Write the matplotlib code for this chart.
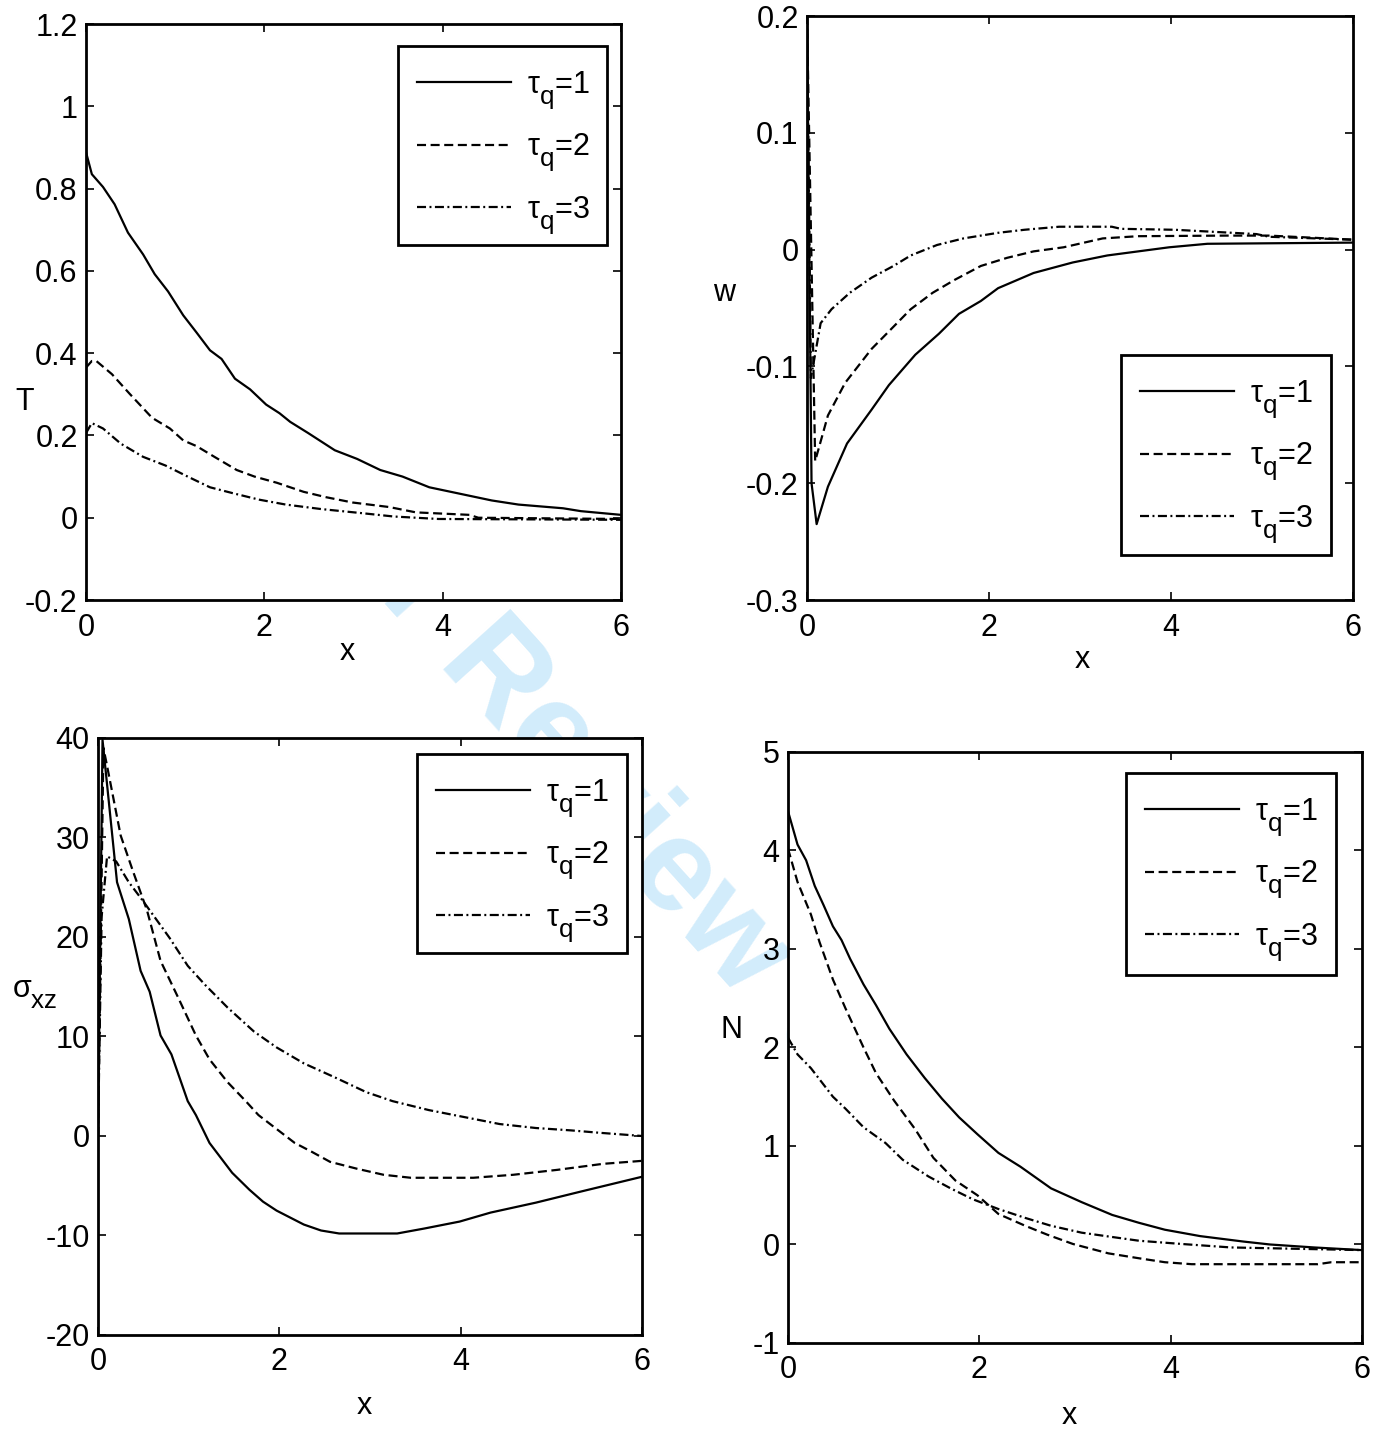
import numpy as np
import matplotlib
matplotlib.use('Agg')
import matplotlib.pyplot as plt
from matplotlib.patches import Rectangle

# 字体设置 (MATLAB 风格的 Helvetica/Arial)
plt.rcParams['font.family'] = 'Liberation Sans'
plt.rcParams['font.size'] = 22
plt.rcParams['mathtext.fontset'] = 'custom'
plt.rcParams['mathtext.rm'] = 'Liberation Sans'
plt.rcParams['mathtext.it'] = 'Liberation Sans'
plt.rcParams['mathtext.bf'] = 'Liberation Sans:bold'
plt.rcParams['axes.unicode_minus'] = False
plt.rcParams['lines.scale_dashes'] = False

# MATLAB 的下标几乎不缩小, 并且下沉较多
try:
    import matplotlib._mathtext as _mt
    _mt.SHRINK_FACTOR = 0.85
    _mt.FontConstantsBase.sub1 = 0.65
    _mt.FontConstantsBase.sub2 = 0.75
except Exception:
    pass

labels = [r'$\tau_q$=1', r'$\tau_q$=2', r'$\tau_q$=3']

# ---- T ----
T1_x = [0, 0.065, 0.19, 0.32, 0.47, 0.64, 0.77, 0.92, 1.09, 1.24, 1.39, 1.52, 1.67, 1.84, 2.02, 2.17,
        2.29, 2.49, 2.64, 2.79, 3.04, 3.3, 3.55, 3.85, 4.2, 4.55, 4.85, 5.35, 5.55, 6.0]
T1_y = [0.888, 0.835, 0.804, 0.762, 0.693, 0.64, 0.592, 0.55, 0.492, 0.45, 0.407, 0.386, 0.338, 0.312,
        0.275, 0.254, 0.233, 0.206, 0.185, 0.164, 0.143, 0.116, 0.1, 0.074, 0.058, 0.042, 0.032, 0.023,
        0.016, 0.007]
T2_x = [0, 0.065, 0.115, 0.29, 0.49, 0.74, 0.94, 1.09, 1.24, 1.44, 1.69, 1.89, 2.14, 2.44, 2.69, 2.99,
        3.4, 3.7, 4.3, 4.4, 6.0]
T2_y = [0.365, 0.381, 0.381, 0.349, 0.301, 0.243, 0.217, 0.188, 0.174, 0.148, 0.116, 0.1, 0.085, 0.063,
        0.05, 0.037, 0.026, 0.013, 0.007, 0.0, -0.003]
T3_x = [0, 0.065, 0.19, 0.39, 0.64, 0.89, 1.14, 1.39, 1.64, 1.94, 2.24, 2.64, 3.1, 3.45, 3.95, 6.0]
T3_y = [0.206, 0.23, 0.217, 0.18, 0.148, 0.127, 0.1, 0.074, 0.06, 0.044, 0.032, 0.021, 0.011, 0.003,
        -0.003, -0.005]

# ---- w ----
w1_x = [0, 0.05, 0.106, 0.23, 0.44, 0.71, 0.9, 1.19, 1.45, 1.67, 1.91, 2.1, 2.49, 2.92, 3.3, 3.64,
        3.98, 4.4, 6.0]
w1_y = [0.2, -0.2, -0.235, -0.203, -0.166, -0.137, -0.116, -0.09, -0.072, -0.055, -0.044, -0.033,
        -0.02, -0.011, -0.005, -0.0015, 0.002, 0.005, 0.006]
w2_x = [0, 0.09, 0.23, 0.42, 0.56, 0.71, 0.9, 1.14, 1.38, 1.62, 1.91, 2.2, 2.49, 2.82, 3.25, 3.64,
        4.6, 5.08, 6.0]
w2_y = [0.2, -0.181, -0.142, -0.114, -0.1, -0.085, -0.07, -0.051, -0.037, -0.026, -0.014, -0.007,
        -0.0015, 0.002, 0.0096, 0.0115, 0.012, 0.012, 0.0085]
w3_x = [0, 0.043, 0.15, 0.27, 0.47, 0.71, 0.95, 1.14, 1.43, 1.72, 2.1, 2.39, 2.77, 3.35, 3.45, 4.04,
        4.94, 5.08, 6.0]
w3_y = [0.2, -0.11, -0.063, -0.051, -0.037, -0.024, -0.014, -0.005, 0.004, 0.0096, 0.0144, 0.017,
        0.0196, 0.0196, 0.0178, 0.017, 0.0133, 0.011, 0.0085]

# ---- sigma_xz ----
s1_x = [0, 0.05, 0.21, 0.34, 0.47, 0.57, 0.69, 0.81, 0.99, 1.08, 1.23, 1.33, 1.48, 1.67, 1.82, 1.97,
        2.27, 2.46, 2.66, 3.3, 3.6, 3.99, 4.33, 4.83, 5.32, 6.0]
s1_y = [0, 39.8, 25.5, 21.8, 16.6, 14.5, 10.1, 8.2, 3.5, 2.1, -0.7, -1.9, -3.7, -5.4, -6.6, -7.5,
        -8.9, -9.5, -9.8, -9.8, -9.3, -8.6, -7.7, -6.7, -5.6, -4.1]
s2_x = [0, 0.06, 0.1, 0.25, 0.39, 0.54, 0.69, 0.89, 1.08, 1.23, 1.43, 1.63, 1.77, 1.97, 2.17, 2.36,
        2.56, 2.86, 3.15, 3.45, 4.14, 4.58, 5.07, 5.57, 6.0]
s2_y = [0, 39.0, 37.2, 30.2, 26.5, 22.7, 17.6, 13.8, 10.1, 7.7, 5.4, 3.5, 2.1, 0.7, -0.7, -1.6,
        -2.6, -3.3, -3.9, -4.2, -4.2, -3.9, -3.4, -2.8, -2.5]
s3_x = [0, 0.04, 0.1, 0.2, 0.34, 0.49, 0.64, 0.79, 0.99, 1.18, 1.43, 1.72, 1.97, 2.27, 2.61, 2.96,
        3.25, 3.65, 4.04, 4.43, 4.83, 5.22, 5.52, 6.0]
s3_y = [0, 22.0, 28.1, 27.6, 25.5, 23.7, 21.8, 19.9, 17.1, 15.2, 12.9, 10.5, 8.9, 7.3, 5.9, 4.4,
        3.5, 2.6, 1.9, 1.2, 0.8, 0.56, 0.33, 0.0]

# ---- N ----
N1_x = [0, 0.1, 0.19, 0.28, 0.37, 0.47, 0.56, 0.65, 0.79, 0.92, 1.06, 1.24, 1.43, 1.61, 1.79, 1.98,
        2.2, 2.43, 2.75, 3.07, 3.39, 3.67, 3.94, 4.31, 4.76, 5.04, 5.5, 6.0]
N1_y = [4.4, 4.06, 3.9, 3.64, 3.45, 3.23, 3.09, 2.9, 2.64, 2.43, 2.19, 1.93, 1.69, 1.48, 1.29, 1.12,
        0.93, 0.79, 0.57, 0.43, 0.3, 0.22, 0.15, 0.085, 0.03, 0.0, -0.03, -0.057]
N2_x = [0, 0.1, 0.24, 0.33, 0.47, 0.6, 0.79, 0.92, 1.11, 1.33, 1.52, 1.75, 1.98, 2.2, 2.48, 2.71,
        2.98, 3.35, 3.67, 3.94, 4.22, 5.54, 5.68, 6.0]
N2_y = [4.02, 3.68, 3.35, 3.07, 2.69, 2.4, 2.0, 1.74, 1.46, 1.17, 0.88, 0.65, 0.5, 0.31, 0.19, 0.1,
        0.005, -0.09, -0.14, -0.18, -0.2, -0.2, -0.18, -0.18]
N3_x = [0, 0.1, 0.24, 0.47, 0.6, 0.79, 1.02, 1.2, 1.47, 1.7, 1.93, 2.2, 2.48, 2.75, 3.07, 3.39, 3.67,
        4.12, 4.63, 6.0]
N3_y = [2.1, 1.93, 1.79, 1.5, 1.38, 1.19, 1.03, 0.86, 0.69, 0.57, 0.46, 0.36, 0.27, 0.19, 0.12, 0.076,
        0.038, 0.005, -0.03, -0.057]

styles = ['-', (0, (6.5, 3.3)), (0, (6.5, 2.5, 1.4, 2.5))]

W, H = 1388, 1431
fig = plt.figure(figsize=(W / 100, H / 100), dpi=100)

# 水印
fig.text(642 / W, 1 - 838 / H, 'For Review Only', fontsize=95, fontweight='bold',
         color='#d2ecfb', rotation=-48, ha='center', va='center', zorder=-1)


def panel(rect, series, ylim, yticks, ylabel, ylab_pos, xlab_pos, box):
    ax = fig.add_axes(rect)
    for (xs, ys), ls, lab in zip(series, styles, labels):
        ax.plot(xs, ys, color='black', linestyle=ls, linewidth=1.6, label=lab)
    ax.set_xlim(0, 6)
    ax.set_ylim(*ylim)
    ax.set_xticks([0, 2, 4, 6])
    ax.set_yticks(yticks)
    ax.xaxis.set_major_formatter(plt.FuncFormatter(lambda v, p: '%g' % v))
    ax.yaxis.set_major_formatter(plt.FuncFormatter(lambda v, p: '%g' % round(v, 6)))
    ax.tick_params(direction='in', length=6, width=1.2, top=True, right=True)
    ax.tick_params(axis='x', pad=9)
    ax.tick_params(axis='y', pad=6)
    for sp in ax.spines.values():
        sp.set_linewidth(2.0)
    ax.set_xlabel('x', ha='center', va='center')
    ax.xaxis.set_label_coords(*xlab_pos)
    ax.set_ylabel(ylabel, rotation=0, ha='center', va='center')
    ax.yaxis.set_label_coords(*ylab_pos)

    # 图例框 (像素坐标: 左, 上, 右, 下)
    x0, y0, x1, y1 = box
    ax.add_patch(Rectangle((x0 / W, 1 - y1 / H), (x1 - x0) / W, (y1 - y0) / H,
                           transform=fig.transFigure, facecolor='white', edgecolor='black',
                           linewidth=2.0, zorder=4.5, clip_on=False))
    ax.legend(loc='upper left', bbox_to_anchor=((x0 + 5) / W, 1 - (y0 + 10) / H),
              bbox_transform=fig.transFigure, borderaxespad=0, frameon=False,
              handlelength=3.1, handletextpad=0.5, labelspacing=0.7, borderpad=0.45)
    return ax


panel([0.062, 0.5807, 0.3854, 0.4025], [(T1_x, T1_y), (T2_x, T2_y), (T3_x, T3_y)],
      (-0.2, 1.2), np.arange(-0.2, 1.21, 0.2), 'T', (-0.114, 0.344), (0.488, -0.09),
      (398, 46, 607, 245))

panel([0.5814, 0.5807, 0.3934, 0.4081], [(w1_x, w1_y), (w2_x, w2_y), (w3_x, w3_y)],
      (-0.3, 0.2), np.arange(-0.3, 0.21, 0.1), 'w', (-0.152, 0.526), (0.504, -0.103),
      (1121, 355, 1331, 555))

panel([0.0706, 0.0671, 0.3919, 0.4172], [(s1_x, s1_y), (s2_x, s2_y), (s3_x, s3_y)],
      (-20, 40), np.arange(-20, 41, 10), r'$\sigma_{xz}$', (-0.116, 0.57), (0.489, -0.119),
      (417, 754, 627, 953))

panel([0.5677, 0.0615, 0.4135, 0.413], [(N1_x, N1_y), (N2_x, N2_y), (N3_x, N3_y)],
      (-1, 5), np.arange(-1, 5.1, 1), 'N', (-0.098, 0.53), (0.491, -0.1235),
      (1126, 773, 1336, 975))

fig.savefig('out.png', dpi=100)
